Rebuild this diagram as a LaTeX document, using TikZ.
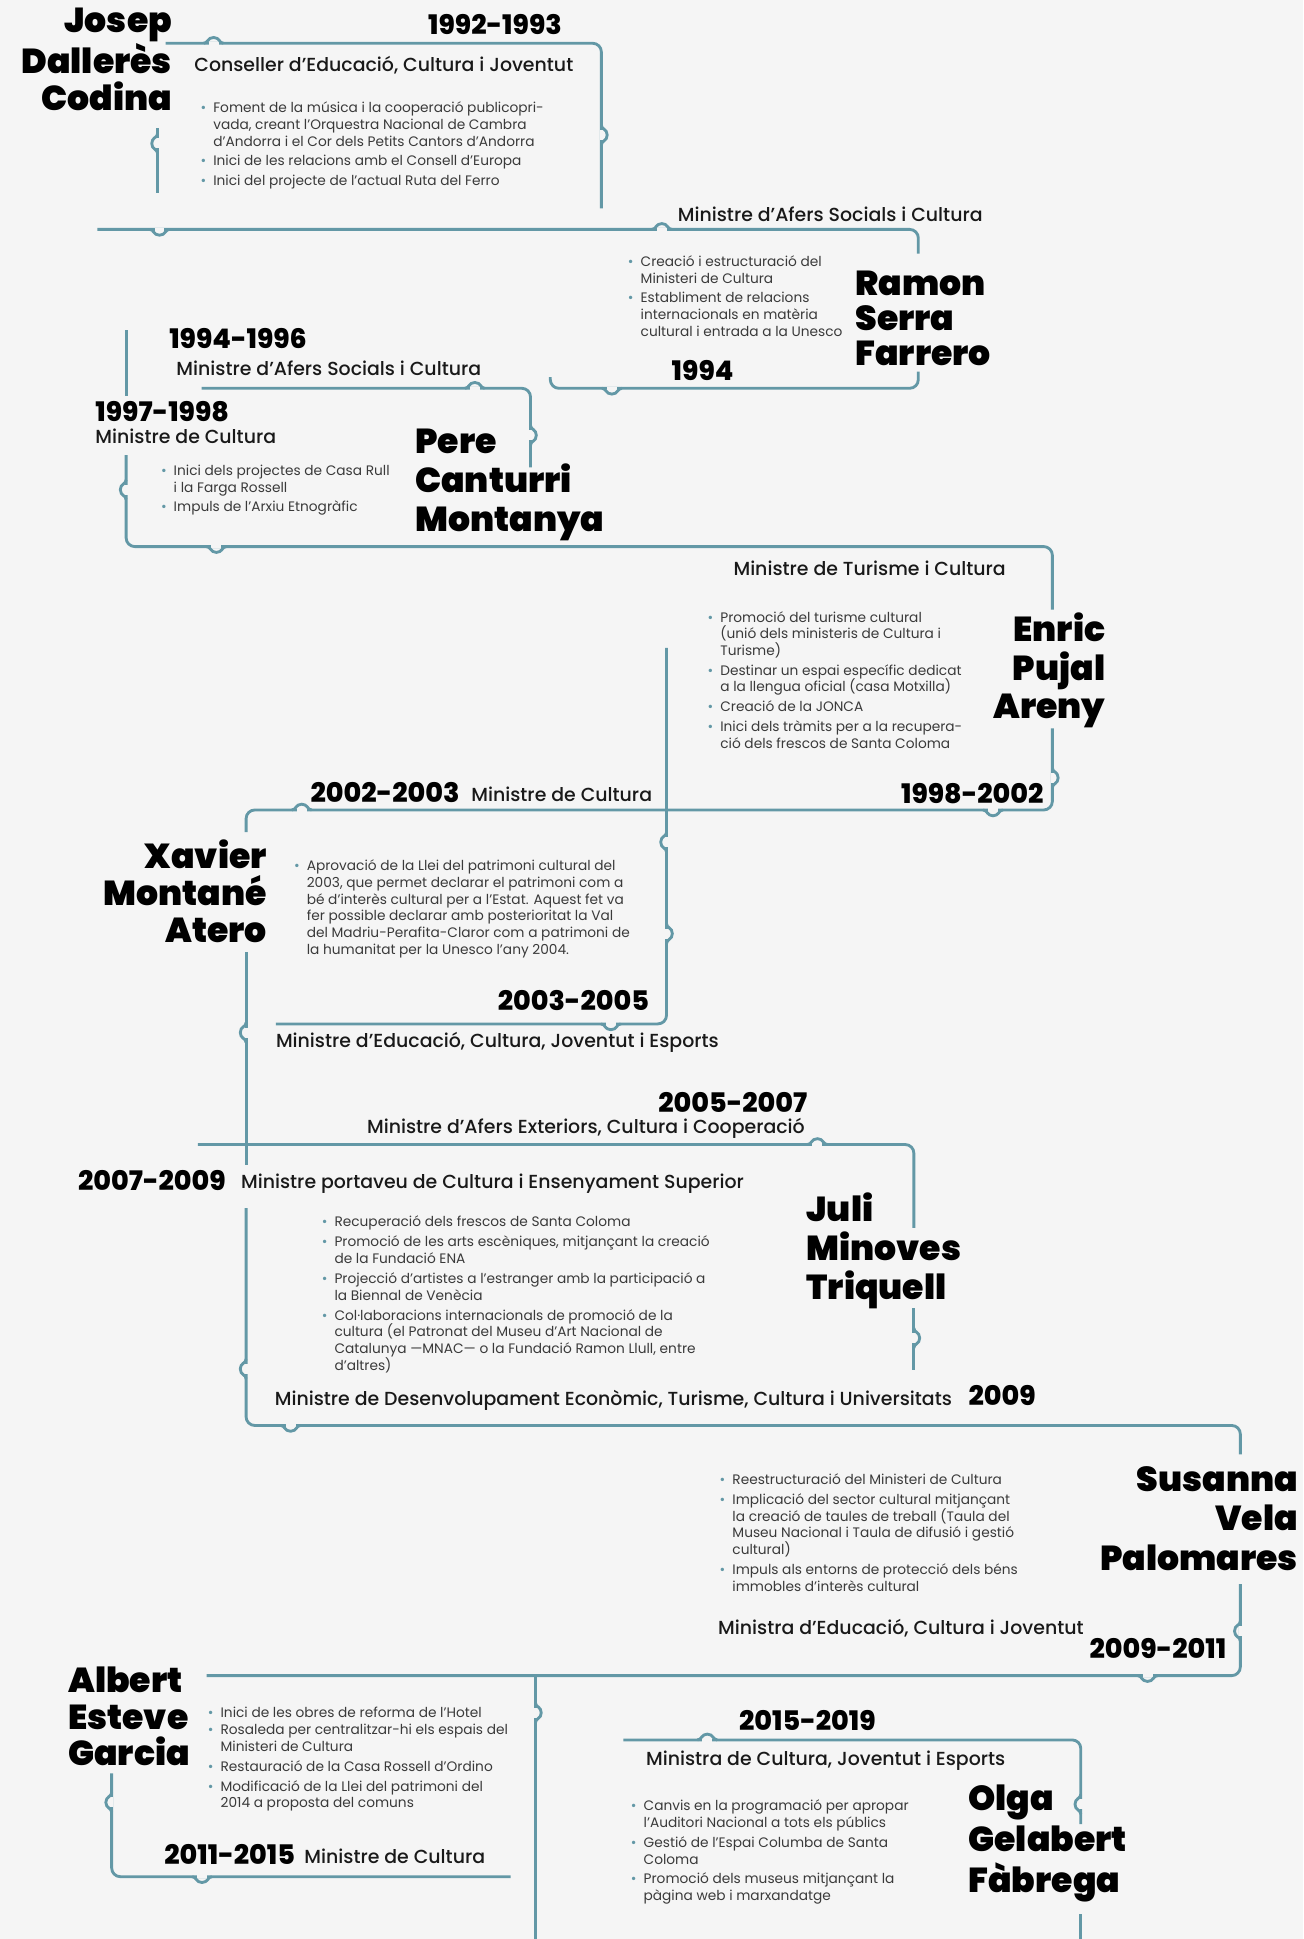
\documentclass[tikz,border=0pt]{standalone}
\usepackage{fontspec}
\setmainfont{Poppins}
\IfFontExistsTF{Poppins ExtraBold}{\newfontfamily\fyr{Poppins ExtraBold}}{\newfontfamily\fyr{Poppins}[UprightFont={* Bold}]}
\IfFontExistsTF{Poppins Black}{\newfontfamily\fnm{Poppins Black}}{\let\fnm\fyr}
\IfFontExistsTF{Poppins Medium}{\newfontfamily\ftt{Poppins Medium}}{\newfontfamily\ftt{Poppins}}
\definecolor{bgc}{HTML}{F5F5F5}
\definecolor{lc}{HTML}{6398A6}
\definecolor{bodyc}{HTML}{3A3A3A}
\newcommand\bu{\makebox[10.3pt][l]{\textcolor{lc}{•}}}
\newcommand\bh{\hspace*{10.3pt}}
\newcommand\bmpu[2]{\draw[er] (#1-4,#2) -- (#1+4,#2); \draw[bp] (#1-8,#2) .. controls (#1-4.5,#2) and (#1-5,#2-4.7) .. (#1,#2-4.7) .. controls (#1+5,#2-4.7) and (#1+4.5,#2) .. (#1+8,#2);}
\newcommand\bmpd[2]{\draw[er] (#1-4,#2) -- (#1+4,#2); \draw[bp] (#1-8,#2) .. controls (#1-4.5,#2) and (#1-5,#2+4.7) .. (#1,#2+4.7) .. controls (#1+5,#2+4.7) and (#1+4.5,#2) .. (#1+8,#2);}
\newcommand\bmpl[2]{\draw[er] (#1,#2-4) -- (#1,#2+4); \draw[bp] (#1,#2-8) .. controls (#1,#2-4.5) and (#1-4.7,#2-5) .. (#1-4.7,#2) .. controls (#1-4.7,#2+5) and (#1,#2+4.5) .. (#1,#2+8);}
\newcommand\bmpr[2]{\draw[er] (#1,#2-4) -- (#1,#2+4); \draw[bp] (#1,#2-8) .. controls (#1,#2-4.5) and (#1+4.7,#2-5) .. (#1+4.7,#2) .. controls (#1+4.7,#2+5) and (#1,#2+4.5) .. (#1,#2+8);}
\tikzset{
  ln/.style={draw=lc, line width=2.3pt, rounded corners=7pt},
  bp/.style={draw=lc, line width=2.3pt},
  er/.style={draw=bgc, line width=2.8pt},
  nm/.style={font=\fnm\fontsize{28}{#1}\selectfont, inner sep=0pt, text=black},
  yr/.style={font=\fyr\fontsize{21.8}{25}\selectfont, inner sep=0pt, text=black},
  tt/.style={font=\ftt\fontsize{15.3}{18}\selectfont, inner sep=0pt, text=black!90},
  ls/.style={font=\fontsize{11.1}{13.5}\selectfont, text=bodyc, align=left, inner sep=0pt, anchor=base west},
}
\begin{document}
\begin{tikzpicture}[x=1pt,y=-1pt]
\useasboundingbox (0,0) rectangle (1054,1568);
\fill[bgc] (0,0) rectangle (1054,1568);
% ---------- lines ----------
\draw[ln] (134,35) -- (486.3,35) -- (486.3,168.5);
\draw[ln] (127.4,103.8) -- (127.4,155.9);
\bmpu{172.7}{35} \bmpr{486.3}{109.2} \bmpl{127.4}{116}
\draw[ln] (78.8,185.5) -- (742.6,185.5) -- (742.6,205);
\bmpd{129}{185.5} \bmpu{535.2}{185.5}
\draw[ln] (742.6,300.6) -- (742.6,314) -- (445,314) -- (445,305);
\bmpd{494.8}{314}
\draw[ln] (102,266.9) -- (102,320);
\draw[ln] (163,314) -- (429,314) -- (429,378);
\bmpu{384}{314} \bmpr{429}{352}
\draw[ln] (102,368) -- (102,442) -- (851,442) -- (851,493);
\bmpl{102}{396} \bmpd{175}{442}
\draw[ln] (851,589) -- (851,655) -- (199,655) -- (199,673);
\bmpr{851}{629} \bmpd{803}{655} \bmpu{244}{655}
\draw[ln] (539,524) -- (539,828) -- (223,828);
\bmpl{539}{681} \bmpr{539}{755} \bmpd{494}{828}
\draw[ln] (199,770) -- (199,942);
\bmpl{199}{835}
\draw[ln] (160,925.5) -- (739,925.5) -- (739,993);
\bmpu{661}{925.5}
\draw[ln] (739,1058) -- (739,1108);
\bmpr{739}{1082}
\draw[ln] (199,977) -- (199,1152.7) -- (1003,1152.7) -- (1003,1176);
\bmpl{199}{1107} \bmpd{235}{1152.7}
\draw[ln] (1003,1281) -- (1003,1355) -- (167,1355);
\bmpl{1003}{1319} \bmpd{928}{1355}
\draw[ln] (433,1355) -- (433,1568);
\bmpr{433}{1385}
\draw[ln] (90.3,1434) -- (90.3,1517.6) -- (413,1517.6);
\bmpl{90.3}{1457.5} \bmpd{163.4}{1517.6}
\draw[ln] (504,1407) -- (874,1407) -- (874,1475);
\bmpu{572}{1407} \bmpl{874}{1459}
\draw[ln] (874,1548) -- (874,1568);
% ---------- section 1 ----------
\node[nm=29.7, align=right, anchor=base east] (name1) at (139.2,89.1) {Josep\\Dallerès\\Codina};
\node[yr, anchor=base east] (yr1) at (454.5,28.3) {1992-1993};
\node[tt, anchor=base west] (t1) at (157,58) {Conseller d’Educació, Cultura i Joventut};
\node[ls] (l1) at (162,149.7) {\bu Foment de la música i la cooperació publicopri-\\\bh vada, creant l’Orquestra Nacional de Cambra\\\bh d’Andorra i el Cor dels Petits Cantors d’Andorra\\[2.2pt]\bu Inici de les relacions amb el Consell d’Europa\\[2.2pt]\bu Inici del projecte de l’actual Ruta del Ferro};
% ---------- section 2 ----------
\node[tt, anchor=base west] (t2) at (548,179) {Ministre d’Afers Socials i Cultura};
\node[ls] (l2) at (507.6,272) {\bu Creació i estructuració del\\\bh Ministeri de Cultura\\[2.2pt]\bu Establiment de relacions\\\bh internacionals en matèria\\\bh cultural i entrada a la Unesco};
\node[nm=28.4, align=left, anchor=base west] (name2) at (691.6,295.4) {Ramon\\Serra\\Farrero};
\node[yr, anchor=base west] (yr2) at (543,307.4) {1994};
% ---------- section 3 ----------
\node[yr, anchor=base west] (yr3a) at (136.7,281.6) {1994-1996};
\node[tt, anchor=base west] (t3a) at (142.5,304) {Ministre d’Afers Socials i Cultura};
\node[yr, anchor=base west] (yr3b) at (77,341) {1997-1998};
\node[tt, anchor=base west] (t3b) at (77,358.5) {Ministre de Cultura};
\node[ls] (l3) at (130,413.9) {\bu Inici dels projectes de Casa Rull\\\bh i la Farga Rossell\\[2.2pt]\bu Impuls de l’Arxiu Etnogràfic};
\node[nm=31.7, align=left, anchor=base west] (name3) at (335.7,430.1) {Pere\\Canturri\\Montanya};
% ---------- section 4 ----------
\node[tt, anchor=base west] (t4) at (593,465) {Ministre de Turisme i Cultura};
\node[ls] (l4) at (572,605) {\bu Promoció del turisme cultural\\\bh (unió dels ministeris de Cultura i\\\bh Turisme)\\[2.5pt]\bu Destinar un espai específic dedicat\\\bh a la llengua oficial (casa Motxilla)\\[2.5pt]\bu Creació de la JONCA\\[2.5pt]\bu Inici dels tràmits per a la recupera-\\\bh ció dels frescos de Santa Coloma};
\node[nm=31, align=right, anchor=base east] (name4) at (894,581) {Enric\\Pujal\\Areny};
\node[yr, anchor=base east] (yr4) at (844,649.7) {1998-2002};
% ---------- section 5 ----------
\node[yr, anchor=base west] (yr5a) at (251,649) {2002-2003};
\node[tt, anchor=base west] (t5a) at (381,648.5) {Ministre de Cultura};
\node[nm=30, align=right, anchor=base east] (name5) at (216,762) {Xavier\\Montané\\Atero};
\node[ls] (l5) at (237.6,771.7) {\bu Aprovació de la Llei del patrimoni cultural del\\\bh 2003, que permet declarar el patrimoni com a\\\bh bé d’interès cultural per a l’Estat. Aquest fet va\\\bh fer possible declarar amb posterioritat la Val\\\bh del Madriu-Perafita-Claror com a patrimoni de\\\bh la humanitat per la Unesco l’any 2004.};
\node[yr, anchor=base east] (yr5b) at (525,817) {2003-2005};
\node[tt, anchor=base west] (t5b) at (223,846.7) {Ministre d’Educació, Cultura, Joventut i Esports};
% ---------- section 6 ----------
\node[yr, anchor=base east] (yr6a) at (653,900) {2005-2007};
\node[tt, anchor=base east] (t6a) at (651,916.3) {Ministre d’Afers Exteriors, Cultura i Cooperació};
\node[yr, anchor=base west] (yr6b) at (63,962.7) {2007-2009};
\node[tt, anchor=base west] (t6b) at (194.8,961) {Ministre portaveu de Cultura i Ensenyament Superior};
\node[ls] (l6) at (260,1108) {\bu Recuperació dels frescos de Santa Coloma\\[2.7pt]\bu Promoció de les arts escèniques, mitjançant la creació\\\bh de la Fundació ENA\\[2.7pt]\bu Projecció d’artistes a l’estranger amb la participació a\\\bh la Biennal de Venècia\\[2.7pt]\bu Col·laboracions internacionals de promoció de la\\\bh cultura (el Patronat del Museu d’Art Nacional de\\\bh Catalunya —MNAC— o la Fundació Ramon Llull, entre\\\bh d’altres)};
\node[nm=31.5, align=left, anchor=base west] (name6) at (652,1051) {Juli\\Minoves\\Triquell};
\node[tt, anchor=base east] (t6c) at (770,1136.6) {Ministre de Desenvolupament Econòmic, Turisme, Cultura i Universitats};
\node[yr, anchor=base west] (yr6c) at (783,1136.6) {2009};
% ---------- section 7 ----------
\node[ls] (l7) at (581.8,1286.7) {\bu Reestructuració del Ministeri de Cultura\\[2.6pt]\bu Implicació del sector cultural mitjançant\\\bh la creació de taules de treball (Taula del\\\bh Museu Nacional i Taula de difusió i gestió\\\bh cultural)\\[2.6pt]\bu Impuls als entorns de protecció dels béns\\\bh immobles d’interès cultural};
\node[nm=32, align=right, anchor=base east] (name7) at (1049.8,1269.8) {Susanna\\Vela\\Palomares};
\node[tt, anchor=base west] (t7) at (580.6,1321.8) {Ministra d’Educació, Cultura i Joventut};
\node[yr, anchor=base east] (yr7) at (991.8,1341.3) {2009-2011};
% ---------- section 8 ----------
\node[nm=29.8, align=left, anchor=base west] (name8) at (55,1428) {Albert\\Esteve\\Garcia};
\node[ls] (l8) at (167.9,1461.8) {\bu Inici de les obres de reforma de l’Hotel\\\bu Rosaleda per centralitzar-hi els espais del\\\bh Ministeri de Cultura\\[2.6pt]\bu Restauració de la Casa Rossell d’Ordino\\[2.6pt]\bu Modificació de la Llei del patrimoni del\\\bh 2014 a proposta del comuns};
\node[yr, anchor=base west] (yr8) at (132.7,1508) {2011-2015};
\node[tt, anchor=base west] (t8) at (246,1507) {Ministre de Cultura};
% ---------- section 9 ----------
\node[yr, anchor=base west] (yr9) at (597.5,1399.5) {2015-2019};
\node[tt, anchor=base west] (t9) at (522.3,1427.8) {Ministra de Cultura, Joventut i Esports};
\node[ls] (l9) at (510,1537) {\bu Canvis en la programació per apropar\\\bh l’Auditori Nacional a tots els públics\\[2.6pt]\bu Gestió de l’Espai Columba de Santa\\\bh Coloma\\[2.6pt]\bu Promoció dels museus mitjançant la\\\bh pàgina web i marxandatge};
\node[nm=33, align=left, anchor=base west] (name9) at (783,1530) {Olga\\Gelabert\\Fàbrega};
\end{tikzpicture}
\end{document}
